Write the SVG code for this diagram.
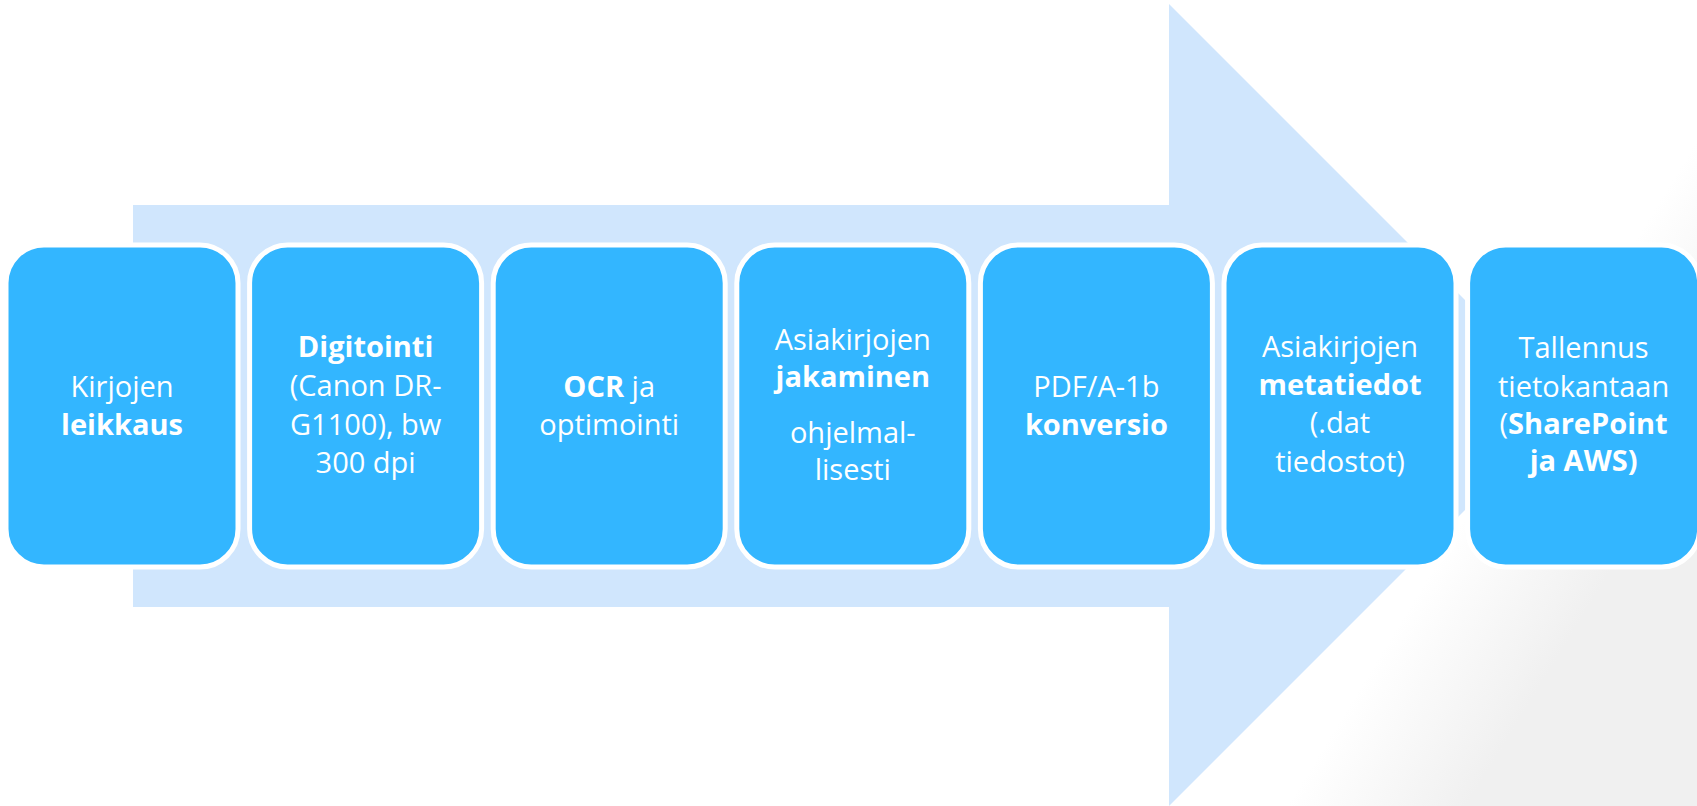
<svg xmlns="http://www.w3.org/2000/svg" width="1697" height="806" viewBox="0 0 1697 806">
<defs>
<linearGradient id="bgShade" gradientUnits="userSpaceOnUse" x1="1580" y1="330" x2="1710" y2="410">
<stop offset="0" stop-color="#f0f0f0" stop-opacity="0"/>
<stop offset="1" stop-color="#f0f0f0" stop-opacity="1"/>
</linearGradient>
<style>
.box{fill:#33b6ff;stroke:#ffffff;stroke-width:5}
.t{font-family:"Open Sans","Noto Sans","DejaVu Sans",sans-serif;font-size:29px;fill:#ffffff;text-anchor:middle}
.b{font-weight:bold}
</style>
</defs>
<rect x="0" y="0" width="1697" height="806" fill="#ffffff"/>
<rect x="0" y="0" width="1697" height="806" fill="url(#bgShade)"/>
<g id="connectors">
<polygon points="133,205 1169,205 1169,4 1570,405 1169,806 1169,607 133,607" fill="#d0e6fd"/>
</g>
<g id="n1">
<rect class="box" x="6" y="245" width="232" height="322" rx="38"/>
<text class="t" x="122" y="397">Kirjojen</text>
<text class="t b" x="122" y="435">leikkaus</text>
</g>
<g id="n2">
<rect class="box" x="249.6" y="245" width="232" height="322" rx="38"/>
<text class="t b" x="365.6" y="357">Digitointi</text>
<text class="t" x="365.6" y="396">(Canon DR-</text>
<text class="t" x="365.6" y="435">G1100), bw</text>
<text class="t" x="365.6" y="473">300 dpi</text>
</g>
<g id="n3">
<rect class="box" x="493.2" y="245" width="232" height="322" rx="38"/>
<text class="t" x="609.2" y="397"><tspan class="b">OCR</tspan> ja</text>
<text class="t" x="609.2" y="435">optimointi</text>
</g>
<g id="n4">
<rect class="box" x="736.8" y="245" width="232" height="322" rx="38"/>
<text class="t" x="852.8" y="350">Asiakirjojen</text>
<text class="t b" x="852.8" y="387">jakaminen</text>
<text class="t" x="852.8" y="443">ohjelmal-</text>
<text class="t" x="852.8" y="480">lisesti</text>
</g>
<g id="n5">
<rect class="box" x="980.4" y="245" width="232" height="322" rx="38"/>
<text class="t" x="1096.4" y="397">PDF/A-1b</text>
<text class="t b" x="1096.4" y="435">konversio</text>
</g>
<g id="n6">
<rect class="box" x="1224" y="245" width="232" height="322" rx="38"/>
<text class="t" x="1340" y="357">Asiakirjojen</text>
<text class="t b" x="1340" y="395">metatiedot</text>
<text class="t" x="1340" y="433">(.dat</text>
<text class="t" x="1340" y="472">tiedostot)</text>
</g>
<g id="n7">
<rect class="box" x="1467.6" y="245" width="232" height="322" rx="38"/>
<text class="t" x="1583.6" y="358">Tallennus</text>
<text class="t" x="1583.6" y="397">tietokantaan</text>
<text class="t" x="1583.6" y="434">(<tspan class="b">SharePoint</tspan></text>
<text class="t b" x="1583.6" y="471">ja AWS)</text>
</g>
</svg>
